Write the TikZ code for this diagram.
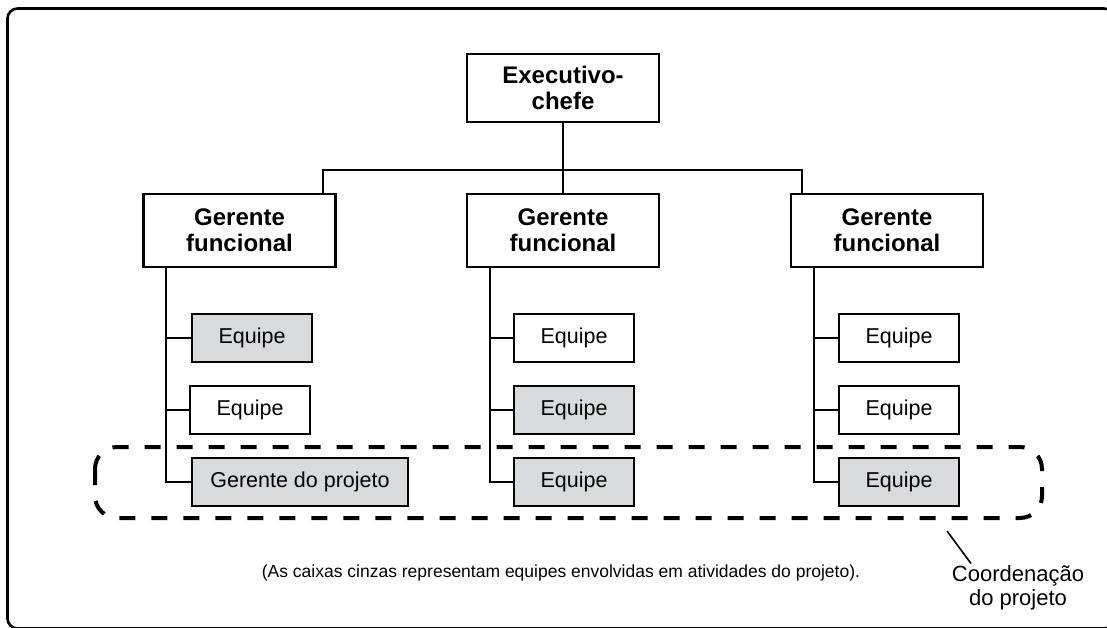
\documentclass[tikz,border=0pt]{standalone}
\usepackage{fontspec}
\setmainfont{Liberation Sans}
\definecolor{boxgray}{RGB}{217,218,220}
\begin{document}
\begin{tikzpicture}[x=1pt,y=-1pt,
  headbox/.style={draw,line width=2.6pt,fill=white,minimum width=192pt,minimum height=72pt,inner sep=0pt,align=center,font=\bfseries\fontsize{24}{26}\selectfont},
  teambox/.style={draw,line width=2.6pt,fill=white,minimum width=120pt,minimum height=48pt,inner sep=0pt,font=\fontsize{21.5}{24}\selectfont},
  grayteam/.style={teambox,fill=boxgray},
  link/.style={line width=2pt},
  coordline/.style={line width=4pt,dash pattern=on 16pt off 16pt,rounded corners=22pt}]
\useasboundingbox (0,0) rectangle (1107,628);
\clip (0,0) rectangle (1107,628);
\draw[line width=2.6pt,rounded corners=10pt] (7.5,8.5) rectangle (1114,628.5);
\draw[coordline] (95,447) rectangle (1042,518);
\node[headbox,minimum height=68pt] (chefe) at (563,88) {Executivo-\\chefe};
\foreach \c/\x in {1/239.5,2/563,3/887}
  \node[headbox,minimum height=73pt] (gf\c) at (\x,230.5) {Gerente\\funcional};
\coordinate (bus) at (563,170);
\draw[link] (chefe) -- (gf2);
\draw[link] ([xshift=-14pt]gf1.north east) |- (bus) -| ([xshift=12pt]gf3.north west);
\node[grayteam] (e11) at (252,338) {Equipe};
\node[teambox] (e12) at (250,410) {Equipe};
\node[grayteam,minimum width=216pt] (e13) at (300,482) {Gerente do projeto};
\node[teambox] (e21) at (574,338) {Equipe};
\node[grayteam] (e22) at (574,410) {Equipe};
\node[grayteam] (e23) at (574,482) {Equipe};
\node[teambox] (e31) at (899,338) {Equipe};
\node[teambox] (e32) at (899,410) {Equipe};
\node[grayteam] (e33) at (899,482) {Equipe};
\foreach \c in {1,2,3}{
  \draw[link] ([xshift=24pt]gf\c.south west) |- (e\c3.west);
  \foreach \r in {1,2}
    \draw[link] ([xshift=24pt]gf\c.south west) |- (e\c\r.west);
}
\node[font=\fontsize{17.5}{20}\selectfont] (nota) at (561,573) {(As caixas cinzas representam equipes envolvidas em atividades do projeto).};
\node[align=center,inner sep=2pt,font=\fontsize{22}{24}\selectfont] (coordtxt) at (1018,588) {Coordenação\\do projeto};
\coordinate (tip) at (947,531);
\draw[link,line width=1.6pt] (tip) -- ([xshift=-47pt]coordtxt.north);
\end{tikzpicture}
\end{document}
